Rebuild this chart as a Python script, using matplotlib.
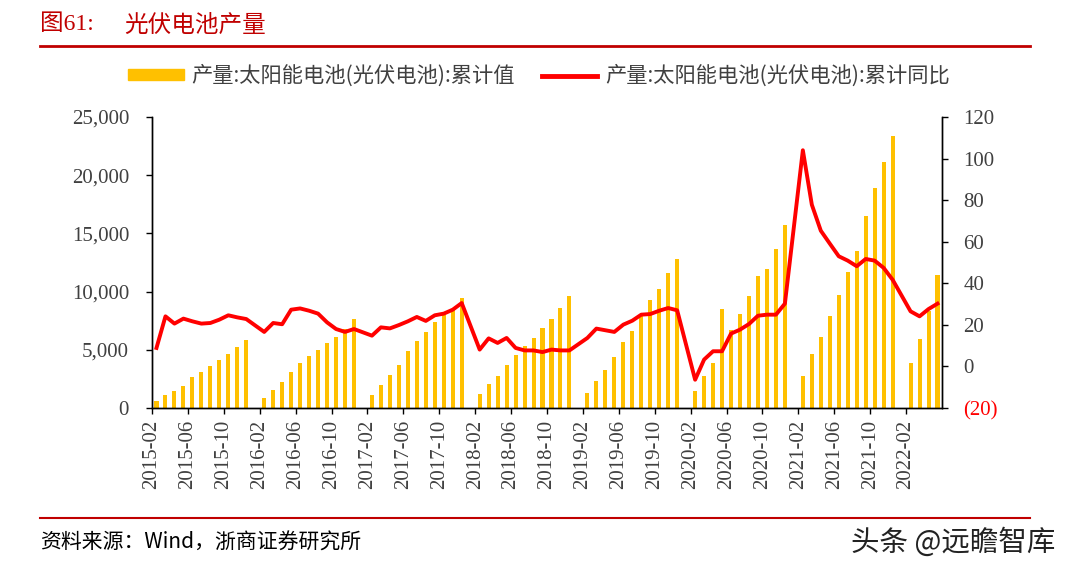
import numpy as np
import pandas as pd
import matplotlib
matplotlib.use("Agg")
import matplotlib.pyplot as plt
from matplotlib.lines import Line2D
from matplotlib.ticker import FuncFormatter

nan = np.nan

# monthly categories 2015-02 .. 2022-05 (January is not published -> empty slot)
months = pd.period_range("2015-02", "2022-05", freq="M").strftime("%Y-%m").tolist()

# cumulative output (bars), Jan = nan
output_cum = [
    630, 1088, 1489, 1890, 2692, 3122, 3580, 4153, 4668, 5270, 5871,
    nan, 888, 1575, 2205, 3122, 3866, 4468, 5012, 5556, 6129, 6759, 7676,
    nan, 1146, 1976, 2864, 3723, 4897, 5728, 6501, 7418, 7991, 8392, 9451,
    nan, 1174, 2033, 2778, 3723, 4582, 5356, 6014, 6845, 7676, 8592, 9594,
    nan, 1317, 2348, 3265, 4353, 5699, 6616, 7876, 9279, 10196, 11599, 12830,
    nan, 1432, 2721, 3866, 8535, 6731, 8105, 9623, 11370, 11971, 13661, 15723,
    nan, 2778, 4640, 6100, 7933, 9738, 11657, 13461, 16526, 18931, 21137, 23399,
    nan, 3866, 5957, 8306, 11399,
]

# cumulative YoY % (line), Jan = nan
output_yoy = [
    8.9, 24.1, 20.6, 23.0, 21.7, 20.6, 20.9, 22.5, 24.6, 23.6, 22.8,
    nan, 16.6, 20.9, 20.3, 27.3, 27.9, 26.8, 25.4, 21.2, 18.0, 16.6, 18.0,
    nan, 14.8, 18.8, 18.3, 19.9, 21.7, 23.8, 21.9, 24.6, 25.4, 27.3, 30.5,
    nan, 8.1, 13.5, 11.3, 13.7, 8.9, 7.7, 7.7, 6.9, 8.1, 7.7, 7.7,
    nan, 13.7, 18.2, 17.4, 16.6, 20.1, 22.0, 24.9, 25.2, 26.8, 28.1, 27.0,
    nan, -6.4, 3.3, 7.3, 7.3, 15.8, 17.7, 20.4, 24.4, 24.9, 24.9, 30.2,
    nan, 104.0, 77.8, 65.3, 59.1, 53.0, 50.9, 48.2, 51.7, 50.9, 47.4, 41.7,
    nan, 26.5, 24.1, 27.6, 30.2,
]

bar_label = "产量:太阳能电池(光伏电池):累计值"
line_label = "产量:太阳能电池(光伏电池):累计同比"

serif = ["Liberation Serif", "Noto Sans CJK SC"]
cjk = ["Noto Sans CJK SC", "DejaVu Sans"]
tick_col = "#404040"
dark_red = "#C00000"

W, H = 1071, 571
fig = plt.figure(figsize=(W / 100, H / 100), dpi=100)
ax = fig.add_axes([152 / W, 1 - 408 / H, 790 / W, 291 / H])
ax2 = ax.twinx()

x = np.arange(len(months))
yb = np.array(output_cum, dtype=float)
yl = np.array(output_yoy, dtype=float)

ax.bar(x, yb, width=0.45, color="#FFC000", zorder=2)
ok = ~np.isnan(yl)
ax2.plot(x[ok], yl[ok], color="#FF0000", lw=2.8, solid_joinstyle="round", zorder=3)

ax.set_xlim(-0.5, len(months) - 0.5)
ax.set_ylim(0, 25000)
ax2.set_ylim(-20, 120)

tick_pos = np.arange(0, len(months), 4)
ax.set_xticks(tick_pos - 0.5)
ax.set_xticklabels([months[i] for i in tick_pos], rotation=90, va="top", ha="center")
ax.set_yticks(np.arange(0, 25001, 5000))
ax.yaxis.set_major_formatter(FuncFormatter(lambda v, p: f"{v:,.0f}"))
ax2.set_yticks(np.arange(-20, 121, 20))
ax2.yaxis.set_major_formatter(FuncFormatter(lambda v, p: f"({-v:.0f})" if v < 0 else f"{v:.0f}"))

for a in (ax, ax2):
    a.spines["top"].set_visible(False)
    for s in a.spines.values():
        s.set_linewidth(1.0)
    a.tick_params(length=4.5, width=1.0, colors="black", labelcolor=tick_col, labelsize=15)
    for lab in a.get_xticklabels() + a.get_yticklabels():
        lab.set_family(serif)
ax.tick_params(axis="y", pad=12)
ax2.tick_params(axis="y", pad=11)
ax.tick_params(axis="x", pad=4)
ax2.get_yticklabels()[0].set_color("red")

# legend
handles = [plt.Rectangle((0, 0), 1, 1, color="#FFC000"),
           Line2D([0], [0], color="#FF0000", lw=3.5)]
fig.legend(handles, [bar_label, line_label], loc="center", ncol=2,
           bbox_to_anchor=(539 / W, 1 - 76 / H), frameon=False,
           prop={"family": cjk, "size": 15.3}, labelcolor=tick_col,
           handlelength=2.6, handleheight=0.45, handletextpad=0.35, columnspacing=1.3)

# title and rules
fig.text(40 / W, 1 - 25 / H, "图61:", color=dark_red, fontsize=17, family=serif, va="center")
fig.text(124 / W, 1 - 25 / H, "光伏电池产量", color=dark_red, fontsize=17, family=cjk, va="center")
fig.add_artist(Line2D([40 / W, 1030 / W], [1 - 46 / H] * 2, color=dark_red, lw=2.0))
fig.add_artist(Line2D([40 / W, 1030 / W], [1 - 518 / H] * 2, color=dark_red, lw=1.5))

fig.text(40 / W, 1 - 543 / H, "资料来源：Wind，浙商证券研究所", fontsize=15,
         family=["Noto Sans CJK SC", "Liberation Serif"], va="center", color="black")
fig.text(1055 / W, 1 - 543 / H, "头条 @远瞻智库", fontsize=20.5, family=cjk,
         va="center", ha="right", color="#222222")

fig.savefig("out.png", dpi=100)
